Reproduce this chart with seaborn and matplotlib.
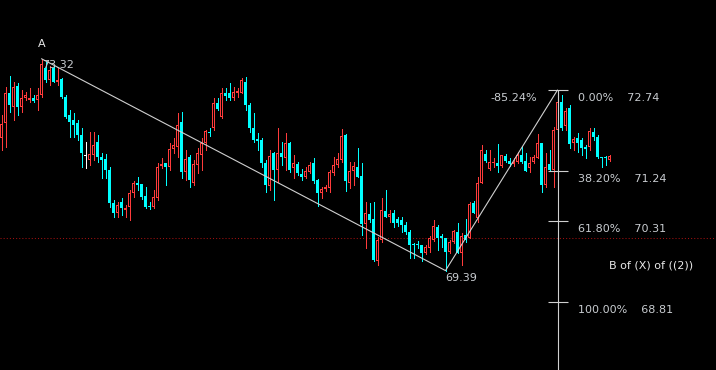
import numpy as np
import pandas as pd
import matplotlib
matplotlib.use("Agg")
import matplotlib.pyplot as plt
import seaborn as sns

# candle prices (one candle every 4 px)
OPENS = [
    71.85, 72.13, 72.69, 72.42, 72.81, 72.42, 72.59, 72.55, 72.59, 72.55,
    72.65, 73.15, 72.93, 73.15, 72.89, 72.94, 72.61, 72.28, 72.18, 72.13,
    71.90, 71.52, 71.44, 71.53, 71.78, 71.50, 71.46, 71.26, 70.64, 70.46,
    70.66, 70.51, 70.57, 70.83, 71.02, 71.00, 70.77, 70.59, 70.57, 70.74,
    71.33, 71.39, 71.31, 71.65, 71.68, 72.15, 71.22, 71.50, 71.02, 71.35,
    71.53, 71.76, 71.96, 72.03, 72.50, 72.24, 72.69, 72.69, 72.59, 72.69,
    72.69, 72.89, 72.46, 72.03, 71.83, 71.81, 71.39, 70.96, 71.57, 71.26,
    71.57, 71.48, 71.76, 71.29, 71.37, 71.18, 71.13, 71.22, 71.39, 71.07,
    70.83, 70.90, 70.92, 71.20, 71.35, 71.44, 71.90, 71.02, 71.24, 71.31,
    71.15, 70.26, 70.44, 70.35, 69.57, 69.96, 70.50, 70.39, 70.46, 70.35,
    70.33, 70.23, 70.11, 69.88, 69.88, 69.86, 69.72, 69.81, 69.96, 70.20,
    70.03, 69.99, 69.74, 69.92, 70.11, 69.72, 70.05, 69.99, 70.64, 70.37,
    71.02, 71.55, 71.28, 71.39, 71.39, 71.33, 71.52, 71.42, 71.37, 71.41,
    71.53, 71.42, 71.29, 71.41, 71.48, 71.76, 70.98, 71.37, 71.26, 72.00,
    72.52, 72.07, 72.41, 71.76, 71.85, 71.81, 71.68, 71.68, 71.96, 71.87,
    71.50, 71.50, 71.44,
]
HIGHS = [
    72.28, 72.80, 73.00, 72.89, 72.87, 72.74, 72.70, 72.78, 72.65, 72.78,
    73.32, 73.26, 73.19, 73.19, 73.15, 72.96, 72.65, 72.37, 72.31, 72.18,
    72.03, 71.78, 71.96, 71.96, 71.90, 71.57, 71.55, 71.31, 70.70, 70.66,
    70.74, 70.61, 70.88, 71.05, 71.13, 71.00, 70.94, 70.66, 70.88, 71.39,
    71.48, 71.39, 71.76, 71.85, 72.31, 72.33, 71.63, 71.53, 71.44, 71.66,
    71.85, 72.00, 72.03, 72.59, 72.59, 72.78, 72.78, 72.87, 72.80, 72.78,
    72.96, 72.98, 72.50, 72.31, 71.94, 71.85, 71.44, 71.63, 71.59, 72.03,
    71.78, 71.94, 71.78, 71.53, 71.41, 71.28, 71.31, 71.41, 71.48, 71.09,
    70.94, 70.98, 71.26, 71.50, 71.57, 72.02, 71.92, 71.41, 71.41, 71.66,
    71.39, 70.66, 70.64, 70.66, 70.01, 70.74, 70.88, 70.51, 70.51, 70.39,
    70.39, 70.29, 70.14, 69.90, 69.94, 69.86, 69.86, 70.03, 70.33, 70.23,
    70.07, 69.99, 69.96, 70.14, 70.27, 70.09, 70.35, 70.66, 70.68, 71.13,
    71.72, 71.63, 71.63, 71.48, 71.74, 71.53, 71.55, 71.48, 71.48, 71.59,
    71.70, 71.57, 71.50, 71.53, 71.92, 71.76, 71.57, 71.63, 72.05, 72.74,
    72.65, 72.41, 72.46, 71.87, 71.94, 71.85, 71.72, 72.03, 72.03, 71.90,
    71.50, 71.52, 71.53,
]
LOWS = [
    71.63, 71.68, 72.33, 72.18, 72.28, 72.33, 72.55, 72.52, 72.52, 72.37,
    72.61, 72.89, 72.83, 72.89, 72.83, 72.59, 72.22, 71.87, 71.87, 71.81,
    71.31, 71.29, 71.35, 71.44, 71.41, 71.11, 71.11, 70.57, 70.39, 70.39,
    70.42, 70.39, 70.33, 70.76, 70.88, 70.72, 70.55, 70.53, 70.55, 70.70,
    71.29, 70.98, 71.26, 71.57, 71.50, 71.11, 71.07, 70.94, 70.98, 71.20,
    71.26, 71.63, 71.89, 72.00, 72.37, 72.22, 72.55, 72.55, 72.55, 72.61,
    72.69, 72.37, 71.96, 71.78, 71.63, 71.31, 70.85, 70.88, 70.70, 71.03,
    71.35, 71.26, 71.22, 71.11, 71.16, 71.07, 71.11, 71.20, 71.02, 70.59,
    70.74, 70.87, 70.85, 71.16, 71.31, 71.41, 70.87, 70.92, 70.98, 71.13,
    70.05, 69.81, 70.29, 69.57, 69.50, 69.92, 70.39, 70.29, 70.20, 70.22,
    70.11, 70.07, 69.62, 69.62, 69.81, 69.57, 69.70, 69.74, 69.94, 69.77,
    69.83, 69.39, 69.72, 69.90, 69.72, 69.50, 69.92, 69.99, 70.46, 70.29,
    71.02, 71.41, 71.26, 71.31, 71.22, 71.31, 71.41, 71.33, 71.33, 71.39,
    71.39, 71.24, 71.22, 71.39, 71.48, 70.85, 70.94, 71.24, 70.94, 71.94,
    72.00, 72.00, 71.66, 71.63, 71.59, 71.53, 71.48, 71.63, 71.81, 71.48,
    71.31, 71.35, 71.42,
]
CLOSES = [
    72.11, 72.69, 72.46, 72.80, 72.42, 72.59, 72.65, 72.59, 72.54, 72.65,
    73.22, 72.93, 73.11, 72.89, 72.93, 72.61, 72.24, 72.15, 72.09, 71.90,
    71.57, 71.52, 71.55, 71.72, 71.50, 71.44, 71.26, 70.64, 70.46, 70.61,
    70.55, 70.55, 70.83, 71.02, 70.98, 70.76, 70.57, 70.57, 70.76, 71.31,
    71.37, 71.31, 71.65, 71.72, 72.09, 71.22, 71.46, 71.07, 71.37, 71.57,
    71.76, 71.98, 71.94, 72.50, 72.39, 72.69, 72.63, 72.59, 72.70, 72.72,
    72.93, 72.46, 72.03, 71.81, 71.79, 71.39, 70.98, 71.52, 71.26, 71.57,
    71.50, 71.76, 71.26, 71.39, 71.20, 71.13, 71.24, 71.35, 71.05, 70.83,
    70.90, 70.94, 71.22, 71.35, 71.46, 71.89, 71.05, 71.24, 71.33, 71.13,
    70.26, 70.46, 70.33, 69.59, 69.96, 70.51, 70.39, 70.44, 70.27, 70.27,
    70.23, 70.11, 69.86, 69.86, 69.86, 69.72, 69.83, 69.99, 70.22, 69.99,
    69.99, 69.74, 69.92, 70.13, 69.72, 70.03, 69.96, 70.63, 70.46, 71.02,
    71.63, 71.42, 71.41, 71.41, 71.33, 71.53, 71.42, 71.37, 71.41, 71.53,
    71.41, 71.24, 71.39, 71.50, 71.76, 70.98, 71.31, 71.26, 72.00, 72.52,
    72.03, 72.35, 71.74, 71.83, 71.76, 71.66, 71.65, 71.98, 71.87, 71.50,
    71.48, 71.48, 71.52,
]

# wave points (candle index, price)
A_IDX, A_PRICE = 10, 73.32
LOW_IDX, LOW_PRICE = 111, 69.39
HIGH_IDX, HIGH_PRICE = 139, 72.74
FIB_RATIOS = [0.0, 0.382, 0.618, 1.0]
BID_LEVEL = 70.00
WAVE_LABEL = "B of (X) of ((2))"

UP = "#ff3b3b"
DOWN = "#00ffff"
DOJI = "#ffffff"
LINE = "#d0d0d0"
TEXT = "#c8ccd0"

sns.set_style("dark", {"axes.facecolor": "black", "figure.facecolor": "black"})
plt.rcParams["font.family"] = ["DejaVu Sans"]

df = pd.DataFrame({"o": OPENS, "h": HIGHS, "l": LOWS, "c": CLOSES})
df["i"] = np.arange(len(df))
df["color"] = np.where(df.c > df.o, UP, np.where(df.c < df.o, DOWN, DOJI))

YLIM = (67.546, 74.41)
px = (YLIM[1] - YLIM[0]) / 370  # one pixel in price units

fig = plt.figure(figsize=(7.16, 3.70), dpi=100, facecolor="black")
ax = fig.add_axes([0, 0, 1, 1])
ax.set_xlim(-0.375, 178.625)
ax.set_ylim(*YLIM)
ax.axis("off")

# bid line
ax.axhline(BID_LEVEL, color="#a01010", lw=0.75, ls=(0, (1, 2)), zorder=1)

# wicks
ax.vlines(df.i, df.l, df.h, colors=df.color, lw=0.6, zorder=2, antialiased=False)

# bodies: hollow red for up candles, filled cyan for down candles
up = df[df.c > df.o]
ax.bar(up.i, (up.c - up.o).clip(lower=px), bottom=up.o, width=0.75,
       color=UP, lw=0, zorder=3, antialiased=False)
hollow = up[(up.c - up.o) > 2.5 * px]
ax.bar(hollow.i, hollow.c - hollow.o - 2 * px, bottom=hollow.o + px, width=0.25,
       color="black", lw=0, zorder=4, antialiased=False)
dn = df[df.c < df.o]
ax.bar(dn.i, (dn.o - dn.c).clip(lower=px), bottom=dn.c, width=0.75,
       color=DOWN, lw=0, zorder=3, antialiased=False)
dj = df[df.c == df.o]
ax.bar(dj.i, px, bottom=dj.o - px / 2, width=0.75, color=DOJI, lw=0, zorder=3,
       antialiased=False)

# wave lines
sns.lineplot(x=[A_IDX, LOW_IDX], y=[A_PRICE, LOW_PRICE], color=LINE, lw=0.8, ax=ax, zorder=5)
sns.lineplot(x=[LOW_IDX, HIGH_IDX], y=[LOW_PRICE, HIGH_PRICE], color=LINE, lw=0.8, ax=ax, zorder=5)

# fibonacci projection from the high
wave_len = A_PRICE - LOW_PRICE
levels = [HIGH_PRICE - r * wave_len for r in FIB_RATIOS]
ax.vlines(HIGH_IDX, YLIM[0], HIGH_PRICE, color=LINE, lw=0.8, zorder=5)
ax.hlines(levels, HIGH_IDX - 2.5, HIGH_IDX + 2.5, color=LINE, lw=0.8, zorder=5)
for r, lvl in zip(FIB_RATIOS, levels):
    ax.annotate(f"{r * 100:.2f}%    {lvl:.2f}", xy=(HIGH_IDX, lvl), xytext=(20, -8),
                textcoords="offset pixels", ha="left", va="center", fontsize=8, color=TEXT)

retrace = (HIGH_PRICE - LOW_PRICE) / wave_len
ax.annotate(f"-{retrace * 100:.2f}%", xy=(HIGH_IDX, HIGH_PRICE), xytext=(-20, -8),
            textcoords="offset pixels", ha="right", va="center", fontsize=8, color=TEXT)
ax.annotate(f"{LOW_PRICE:.2f}", xy=(LOW_IDX, LOW_PRICE), xytext=(0, -7),
            textcoords="offset pixels", ha="left", va="center", fontsize=8, color=TEXT)
ax.annotate(f"{A_PRICE:.2f}", xy=(A_IDX, A_PRICE), xytext=(1, -6),
            textcoords="offset pixels", ha="left", va="center", fontsize=8, color=TEXT)
ax.annotate("A", xy=(A_IDX, A_PRICE), xytext=(0, 15),
            textcoords="offset pixels", ha="center", va="center", fontsize=8, color="#e8e8e8")
fig.text(609 / 716, 1 - 266 / 370, WAVE_LABEL, ha="left", va="center",
         fontsize=8, color="#e8e8e8")

fig.savefig("out.png", dpi=100, facecolor="black")
